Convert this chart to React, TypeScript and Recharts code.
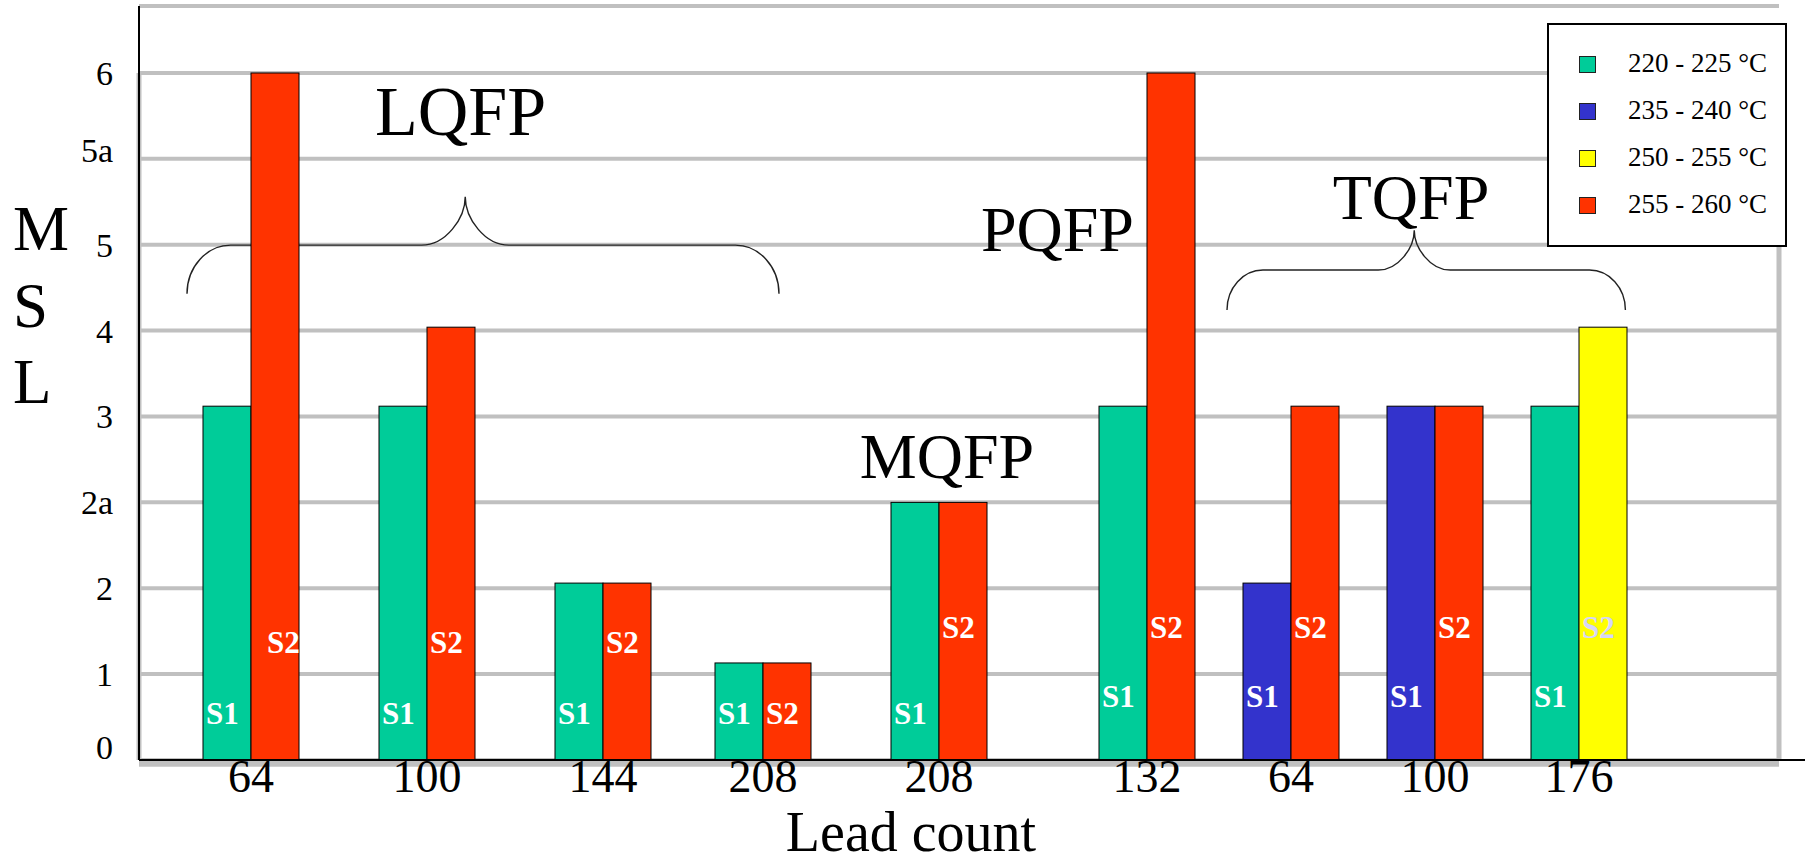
import React from 'react';
import { BarChart, Bar, XAxis, YAxis, CartesianGrid, ReferenceLine, ReferenceArea, ReferenceDot, Legend } from 'recharts';

// lead count under each pair of bars, and the package family it belongs to
const leadCounts = ['64', '100', '144', '208', '208', '132', '64', '100', '176'];
const families = ['LQFP', 'LQFP', 'LQFP', 'LQFP', 'MQFP', 'PQFP', 'TQFP', 'TQFP', 'TQFP'];
// groups are not evenly spaced in the original, so they sit on a numeric "slot" axis
const slots = [7, 18, 29, 39, 50, 63, 72, 81, 90];

// MSL levels as steps on the y axis (0,1,2,2a,3,4,5,5a,6)
const mslLevels = ['0', '1', '2', '2a', '3', '4', '5', '5a', '6'];
const levelTicks = [0, 1, 2, 3, 4, 5, 6, 7, 8];

// bar heights, in level steps
const s1Values = [4.12, 4.12, 2.06, 1.13, 3.0, 4.12, 2.06, 4.12, 4.12];
const s2Values = [8.0, 5.04, 2.06, 1.13, 3.0, 8.0, 4.12, 4.12, 5.04];

// reflow temperature band of each bar (index into legend)
const s1Bands = [0, 0, 0, 0, 0, 0, 1, 1, 0];
const s2Bands = [3, 3, 3, 3, 3, 3, 3, 3, 2];

const tempBands = ['220 - 225 °C', '235 - 240 °C', '250 - 255 °C', '255 - 260 °C'];
const bandColors = ['#00cc99', '#3333cc', '#ffff00', '#ff3300'];

// family captions and braces (annotation positions in slot / level units)
const captionNames = ['LQFP', 'MQFP', 'PQFP', 'TQFP'];
const captionSlots = [20.1, 50.5, 57.4, 79.5];
const captionLevels = [7.28, 3.28, 5.93, 6.3];

const braces = [
  { x1: 3, x2: 40, y1: 5.43, y2: 6.56 },
  { x1: 68, x2: 92.9, y1: 5.24, y2: 6.17 },
];

const data = slots.map((slot, i) => ({
  slot,
  lead: leadCounts[i],
  family: families[i],
  s1: s1Values[i],
  s2: s2Values[i],
}));

const FONT = '"Liberation Serif", "Times New Roman", serif';
const GRID = '#c0c0c0';

const makeBarShape = (series: 's1' | 's2') => (props: any) => {
  const { x, y, width, height, index } = props;
  const band = series === 's1' ? s1Bands[index] : s2Bands[index];
  const fam = families[index];
  let off = series === 's1' ? (fam === 'LQFP' || fam === 'MQFP' ? 36 : 53) : fam === 'LQFP' ? 107 : 122;
  if (series === 's2' && height < 140) off = 36;
  // the tallest LQFP tag sits further right in the original and runs off the bar
  const dx = series === 's2' && index === 0 ? 16 : 3;
  return (
    <g>
      <rect x={x} y={y} width={width} height={height} fill={bandColors[band]} stroke="#000" strokeWidth={1} />
      <text
        x={x + dx}
        y={y + height - off}
        fill={band === 2 ? '#d6d6f6' : '#ffffff'}
        fontFamily={FONT}
        fontWeight="bold"
        fontSize={31}
      >
        {series === 's1' ? 'S1' : 'S2'}
      </text>
    </g>
  );
};

const BraceShape = (props: any) => {
  const { x, y, width, height } = props;
  const top = y;
  const bot = y + height;
  const mid = y + height / 2;
  const cx = x + width * 0.47;
  const rx = height * 0.45;
  const k = 0.55;
  const hv = (bot - mid) * k;
  const right = x + width;
  const d = [
    `M ${x} ${bot}`,
    `C ${x} ${bot - hv} ${x + rx - k * rx} ${mid} ${x + rx} ${mid}`,
    `L ${cx - rx} ${mid}`,
    `C ${cx - rx + k * rx} ${mid} ${cx} ${mid - hv} ${cx} ${top}`,
    `C ${cx} ${mid - hv} ${cx + rx - k * rx} ${mid} ${cx + rx} ${mid}`,
    `L ${right - rx} ${mid}`,
    `C ${right - rx + k * rx} ${mid} ${right} ${bot - hv} ${right} ${bot}`,
  ].join(' ');
  return <path d={d} fill="none" stroke="#222" strokeWidth={1.4} />;
};

const captionShape = (name: string) => (props: any) => (
  <text
    x={props.cx}
    y={props.cy}
    textAnchor="middle"
    fontFamily={FONT}
    fontSize={name === 'LQFP' ? 70 : 64}
    fill="#000"
  >
    {name}
  </text>
);

const XTick = (props: any) => {
  const { x, y, payload } = props;
  const i = slots.indexOf(payload.value);
  return (
    <text x={x} y={y} dy={24} textAnchor="middle" fontFamily={FONT} fontSize={46} fill="#000">
      {i >= 0 ? leadCounts[i] : ''}
    </text>
  );
};

const YTick = (props: any) => {
  const { y, payload } = props;
  const label = mslLevels[payload.value];
  const shift = label === '0' ? -13 : label === '5a' ? -9 : 0;
  return (
    <text x={113} y={y + shift} dy="0.35em" textAnchor="end" fontFamily={FONT} fontSize={34} fill="#000">
      {label}
    </text>
  );
};

const MslLabel = (props: any) => {
  const vb = props.viewBox || { x: 0, y: 6 };
  return (
    <text fontFamily={FONT} fontSize={63} fill="#000">
      <tspan x={vb.x + 13} y={vb.y + 244}>M</tspan>
      <tspan x={vb.x + 13} y={vb.y + 321}>S</tspan>
      <tspan x={vb.x + 13} y={vb.y + 397}>L</tspan>
    </text>
  );
};

const LeadLabel = (props: any) => {
  const vb = props.viewBox || { x: 139, y: 760, width: 1640 };
  return (
    <text x={vb.x + vb.width / 2 - 48} y={vb.y + 91} textAnchor="middle" fontFamily={FONT} fontSize={56} fill="#000">
      Lead count
    </text>
  );
};

const renderLegend = () => (
  <div
    style={{
      width: 240,
      height: 224,
      border: '2px solid #000',
      boxSizing: 'border-box',
      background: '#fff',
      position: 'relative',
      fontFamily: FONT,
    }}
  >
    {tempBands.map((t, i) => (
      <div key={t}>
        <div
          style={{
            position: 'absolute',
            left: 30,
            top: 40 + 47 * i - 9,
            width: 17,
            height: 17,
            boxSizing: 'border-box',
            background: bandColors[i],
            border: '1.5px solid #222',
          }}
        />
        <div
          style={{
            position: 'absolute',
            left: 79,
            top: 40 + 47 * i - 17,
            fontSize: 27,
            lineHeight: '30px',
            color: '#000',
            whiteSpace: 'nowrap',
          }}
        >
          {t}
        </div>
      </div>
    ))}
  </div>
);

export default function App() {
  return (
    <div style={{ position: 'absolute', left: 0, top: 0, width: 1805, height: 864, background: '#fff' }}>
      <BarChart width={1805} height={864} data={data} margin={{ top: 6, right: 26, left: 0, bottom: 0 }} barGap={0}>
        <CartesianGrid vertical={false} stroke={GRID} strokeWidth={4} />
        <ReferenceLine segment={[{ x: 0, y: 0 }, { x: 0, y: 8 }]} stroke={GRID} strokeWidth={5} ifOverflow="visible" />
        <ReferenceLine segment={[{ x: 102.5, y: 0 }, { x: 102.5, y: 8 }]} stroke={GRID} strokeWidth={5} ifOverflow="visible" />
        <ReferenceLine segment={[{ x: 0, y: -0.045 }, { x: 102.5, y: -0.045 }]} stroke={GRID} strokeWidth={6} ifOverflow="visible" />
        <Bar dataKey="s1" barSize={48} isAnimationActive={false} shape={makeBarShape('s1')} />
        <Bar dataKey="s2" barSize={48} isAnimationActive={false} shape={makeBarShape('s2')} />
        {braces.map((b, i) => (
          <ReferenceArea key={i} x1={b.x1} x2={b.x2} y1={b.y1} y2={b.y2} ifOverflow="visible" shape={BraceShape} />
        ))}
        {captionNames.map((n, i) => (
          <ReferenceDot key={n} x={captionSlots[i]} y={captionLevels[i]} r={0} ifOverflow="visible" shape={captionShape(n)} />
        ))}
        <XAxis
          type="number"
          dataKey="slot"
          domain={[0, 102.5]}
          ticks={slots}
          interval={0}
          allowDataOverflow
          height={104}
          tickLine={false}
          axisLine={{ stroke: '#000', strokeWidth: 2 }}
          tick={XTick}
          label={LeadLabel}
        />
        <YAxis
          type="number"
          domain={[0, 8.78]}
          ticks={levelTicks}
          interval={0}
          allowDataOverflow
          width={139}
          tickLine={false}
          axisLine={{ stroke: '#000', strokeWidth: 2 }}
          tick={YTick}
          label={MslLabel}
        />
        <ReferenceLine segment={[{ x: 102.5, y: 0 }, { x: 104.2, y: 0 }]} stroke="#000" strokeWidth={2} ifOverflow="visible" />
        <Legend
          layout="vertical"
          align="center"
          verticalAlign="middle"
          content={renderLegend}
          wrapperStyle={{ left: 1547, top: 23, width: 240, height: 224 }}
        />
      </BarChart>
    </div>
  );
}
